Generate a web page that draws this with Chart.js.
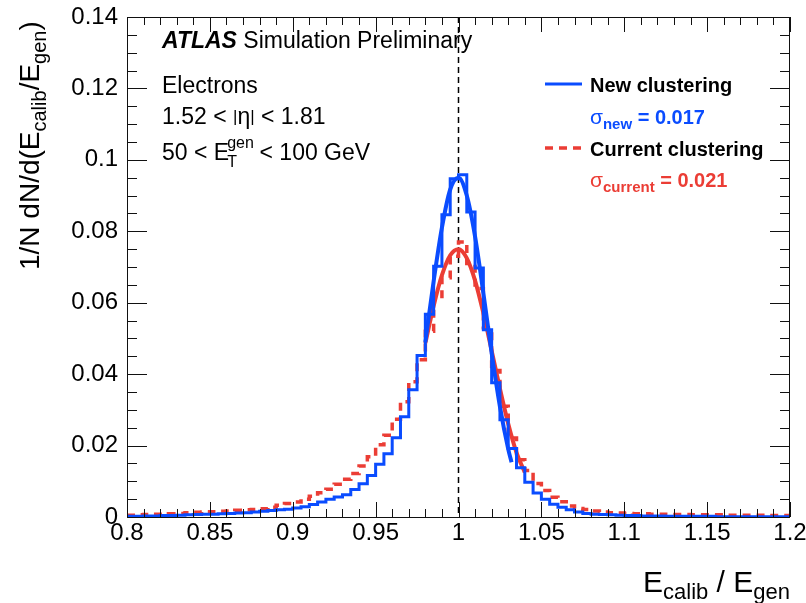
<!DOCTYPE html>
<html>
<head>
<meta charset="utf-8">
<script src="https://cdn.jsdelivr.net/npm/chart.js@4"></script>
<style>
  html, body { margin: 0; padding: 0; background: #fff; }
</style>
</head>
<body>
<canvas id="c" width="806" height="603"></canvas>
<script>
// ── Data ──────────────────────────────────────────────────
const X_MIN = 0.8, X_MAX = 1.2, BIN_W = 0.005;

// 1/N dN/d(Ecalib/Egen) per bin, bins of 0.005 from 0.8 to 1.2
const newCounts = [
    0.0002, 0.0002, 0.0003, 0.0003, 0.0004, 0.0004, 0.0005, 0.0006, 0.0007, 0.0008,
    0.0008, 0.0009, 0.0010, 0.0011, 0.0012, 0.0014, 0.0016, 0.0018, 0.0020, 0.0022,
    0.0025, 0.0029, 0.0035, 0.0042, 0.0050, 0.0056, 0.0062, 0.0077, 0.0093, 0.0116,
    0.0148, 0.0177, 0.0222, 0.0281, 0.0356, 0.0452, 0.0568, 0.0702, 0.0846, 0.0947,
    0.0958, 0.0854, 0.0697, 0.0524, 0.0376, 0.0272, 0.0192, 0.0138, 0.0097, 0.0067,
    0.0050, 0.0036, 0.0027, 0.0020, 0.0014, 0.0010, 0.0008, 0.0007, 0.0006, 0.0005,
    0.0004, 0.0004, 0.0003, 0.0003, 0.0003, 0.0002, 0.0002, 0.0002, 0.0002, 0.0002,
    0.0002, 0.0001, 0.0001, 0.0001, 0.0001, 0.0001, 0.0001, 0.0001, 0.0001, 0.0001,
];
const currentCounts = [
    0.0005, 0.0006, 0.0007, 0.0008, 0.0008, 0.0009, 0.0010, 0.0012, 0.0013, 0.0014,
    0.0015, 0.0016, 0.0017, 0.0019, 0.0020, 0.0021, 0.0023, 0.0027, 0.0033, 0.0038,
    0.0042, 0.0050, 0.0058, 0.0068, 0.0078, 0.0092, 0.0106, 0.0122, 0.0143, 0.0169,
    0.0202, 0.0229, 0.0274, 0.0323, 0.0379, 0.0440, 0.0520, 0.0610, 0.0670, 0.0730,
    0.0770, 0.0710, 0.0640, 0.0530, 0.0410, 0.0310, 0.0221, 0.0160, 0.0130, 0.0094,
    0.0074, 0.0055, 0.0043, 0.0031, 0.0024, 0.0021, 0.0017, 0.0014, 0.0012, 0.0011,
    0.0010, 0.0009, 0.0009, 0.0008, 0.0008, 0.0007, 0.0007, 0.0007, 0.0006, 0.0006,
    0.0006, 0.0006, 0.0005, 0.0005, 0.0005, 0.0005, 0.0005, 0.0004, 0.0004, 0.0004,
];

// Gaussian fit curves
const fitNewX = [0.98, 0.985, 0.99, 0.995, 1.0, 1.005, 1.01, 1.015, 1.02, 1.025, 1.03, 1.032];
const fitNewY = [0.049, 0.066, 0.081, 0.0917, 0.095, 0.090, 0.0785, 0.0627, 0.0459, 0.0309, 0.019, 0.0153];
const fitCurX = [0.98, 0.985, 0.99, 0.995, 1.0, 1.005, 1.01, 1.015, 1.02, 1.025, 1.03, 1.035, 1.04];
const fitCurY = [0.0487, 0.0591, 0.0677, 0.0733, 0.075, 0.0725, 0.0662, 0.0571, 0.0466, 0.0359, 0.0261, 0.018, 0.0125];

const sigmaNew = "0.017";
const sigmaCurrent = "0.021";

const BLUE = "#0a4cff";
const RED = "#eb3d35";
const FONT = "'Liberation Sans', Arial, Helvetica, sans-serif";

// ── Helpers ───────────────────────────────────────────────
function histPoints(counts) {
    const pts = counts.map((v, i) => ({ x: X_MIN + i * BIN_W, y: v }));
    pts.push({ x: X_MAX, y: counts[counts.length - 1] });
    return pts;
}
const zip = (xs, ys) => xs.map((x, i) => ({ x, y: ys[i] }));
const tickFmt = (v) => String(+(+v).toFixed(3));

function fontOf(p) {
    return `${p.italic ? "italic " : ""}${p.bold ? "bold " : ""}${p.size}px ${FONT}`;
}
// draw a run of text pieces (for sub/superscripts)
function drawRich(ctx, parts, x, y, align, color) {
    let w = 0;
    parts.forEach((p) => {
        ctx.font = fontOf(p);
        p.w = ctx.measureText(p.t).width;
        w += p.adv !== undefined ? p.adv : p.w;
    });
    let cx = align === "right" ? x - w : x;
    ctx.textAlign = "left";
    ctx.textBaseline = "alphabetic";
    parts.forEach((p) => {
        ctx.font = fontOf(p);
        ctx.fillStyle = p.color || color || "#000";
        ctx.fillText(p.t, cx + (p.dx || 0), y + (p.dy || 0));
        cx += p.adv !== undefined ? p.adv : p.w;
    });
}

// ── Frame, ticks, labels ──────────────────────────────────
const atlasDecor = {
    id: "atlasDecor",
    beforeDatasetsDraw(chart) {
        const { ctx, chartArea: a, scales } = chart;
        const x1 = scales.x.getPixelForValue(1);
        ctx.save();
        ctx.strokeStyle = "#000";
        ctx.lineWidth = 1.5;
        ctx.setLineDash([6, 4]);
        ctx.beginPath();
        ctx.moveTo(x1, a.top);
        ctx.lineTo(x1, a.bottom);
        ctx.stroke();
        ctx.restore();
    },
    afterDraw(chart) {
        const { ctx, chartArea: a, scales } = chart;
        ctx.save();
        ctx.strokeStyle = "#111";
        ctx.lineWidth = 1;
        ctx.strokeRect(a.left + 0.5, a.top + 0.5, a.right - a.left - 1, a.bottom - a.top);

        // x ticks (bottom and top, inward)
        ctx.beginPath();
        for (let k = 0; k <= 40; k++) {
            const v = X_MIN + k * 0.01;
            const px = Math.round(scales.x.getPixelForValue(v)) + 0.5;
            const len = k % 5 === 0 ? 15 : 8;
            ctx.moveTo(px, a.bottom);
            ctx.lineTo(px, a.bottom - len);
            ctx.moveTo(px, a.top);
            ctx.lineTo(px, a.top + len);
        }
        // y ticks (left and right, inward)
        for (let k = 0; k <= 28; k++) {
            const v = k * 0.005;
            const py = Math.round(scales.y.getPixelForValue(v)) + 0.5;
            const len = k % 4 === 0 ? 20 : 10;
            ctx.moveTo(a.left, py);
            ctx.lineTo(a.left + len, py);
            ctx.moveTo(a.right, py);
            ctx.lineTo(a.right - len, py);
        }
        ctx.stroke();

        // text block
        drawRich(ctx, [
            { t: "ATLAS", size: 23, bold: true, italic: true },
            { t: " Simulation Preliminary", size: 23 },
        ], 162, 48);
        drawRich(ctx, [{ t: "Electrons", size: 23 }], 162, 93);
        drawRich(ctx, [
            { t: "1.52 < ", size: 23 },
            { t: "|", size: 17, dy: -2 },
            { t: "η", size: 23 },
            { t: "|", size: 17, dy: -2 },
            { t: " < 1.81", size: 23 },
        ], 162, 124);
        drawRich(ctx, [
            { t: "50 < E", size: 23 },
            { t: "gen", size: 16, dy: -12, dx: -2, adv: 0 },
            { t: "T", size: 16, dy: 7, dx: -2, adv: 24 },
            { t: " < 100 GeV", size: 23 },
        ], 162, 160);

        // legend
        ctx.lineWidth = 3;
        ctx.strokeStyle = BLUE;
        ctx.setLineDash([]);
        ctx.beginPath();
        ctx.moveTo(545, 84);
        ctx.lineTo(582, 84);
        ctx.stroke();
        drawRich(ctx, [{ t: "New clustering", size: 20, bold: true }], 590, 92);
        drawRich(ctx, [
            { t: "σ", size: 21 },
            { t: "new", size: 15, bold: true, dy: 5 },
            { t: " = " + sigmaNew, size: 20, bold: true },
        ], 590, 124, "left", BLUE);

        ctx.strokeStyle = RED;
        ctx.lineWidth = 3.5;
        ctx.setLineDash([8, 6]);
        ctx.beginPath();
        ctx.moveTo(545, 148);
        ctx.lineTo(582, 148);
        ctx.stroke();
        ctx.setLineDash([]);
        drawRich(ctx, [{ t: "Current clustering", size: 20, bold: true }], 590, 156);
        drawRich(ctx, [
            { t: "σ", size: 21 },
            { t: "current", size: 15, bold: true, dy: 5 },
            { t: " = " + sigmaCurrent, size: 20, bold: true },
        ], 590, 187, "left", RED);

        // x title
        drawRich(ctx, [
            { t: "E", size: 30 },
            { t: "calib", size: 22, dy: 7 },
            { t: " / E", size: 30 },
            { t: "gen", size: 22, dy: 7 },
        ], 790, 592, "right");

        // y title (rotated)
        ctx.translate(39, 270);
        ctx.rotate(-Math.PI / 2);
        drawRich(ctx, [
            { t: "1/N dN/d(E", size: 28 },
            { t: "calib", size: 20, dy: 7 },
            { t: "/E", size: 28 },
            { t: "gen", size: 20, dy: 7 },
            { t: ")", size: 28 },
        ], 0, 0);
        ctx.restore();
    },
};

// ── Chart ─────────────────────────────────────────────────
new Chart(document.getElementById("c"), {
    type: "line",
    data: {
        datasets: [
            {
                label: "New fit",
                data: zip(fitNewX, fitNewY),
                borderColor: BLUE,
                borderWidth: 4,
                pointRadius: 0,
                cubicInterpolationMode: "monotone",
                order: 0,
            },
            {
                label: "New clustering",
                data: histPoints(newCounts),
                borderColor: BLUE,
                borderWidth: 3,
                pointRadius: 0,
                stepped: true,
                order: 1,
            },
            {
                label: "Current fit",
                data: zip(fitCurX, fitCurY),
                borderColor: RED,
                borderWidth: 4,
                pointRadius: 0,
                cubicInterpolationMode: "monotone",
                order: 2,
            },
            {
                label: "Current clustering",
                data: histPoints(currentCounts),
                borderColor: RED,
                borderWidth: 3.5,
                borderDash: [8, 6],
                pointRadius: 0,
                stepped: true,
                order: 3,
            },
        ],
    },
    options: {
        responsive: false,
        animation: false,
        devicePixelRatio: 1,
        layout: { padding: { top: 17, right: 16, left: 0, bottom: 0 } },
        plugins: { legend: { display: false }, tooltip: { enabled: false } },
        scales: {
            x: {
                type: "linear",
                min: X_MIN,
                max: X_MAX,
                grid: { display: false, drawTicks: false },
                border: { display: false },
                ticks: {
                    stepSize: 0.05,
                    autoSkip: false,
                    maxRotation: 0,
                    padding: 2,
                    color: "#000",
                    font: { family: FONT, size: 24 },
                    callback: tickFmt,
                },
                afterFit: (s) => {
                    s.height = 86;
                    s.paddingLeft = 0;
                    s.paddingRight = 0;
                },
            },
            y: {
                min: 0,
                max: 0.14,
                grid: { display: false, drawTicks: false },
                border: { display: false },
                ticks: {
                    stepSize: 0.02,
                    padding: 9,
                    color: "#000",
                    font: { family: FONT, size: 24 },
                    callback: tickFmt,
                },
                afterFit: (s) => {
                    s.width = 127;
                    s.paddingTop = 0;
                    s.paddingBottom = 0;
                },
            },
        },
    },
    plugins: [atlasDecor],
});
</script>
</body>
</html>
